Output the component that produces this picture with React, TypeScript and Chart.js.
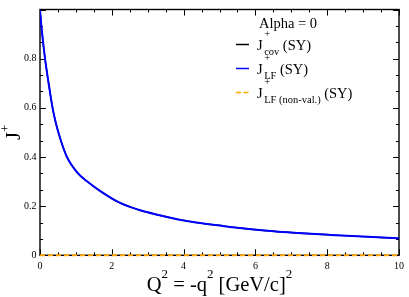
import React, { useEffect, useRef } from "react";
import { Chart, registerables } from "chart.js";

Chart.register(...registerables);

// ---- data ----
const q2Values = [0, 0.04, 0.14, 0.24, 0.35, 0.45, 0.58, 0.75, 1.06, 1.3, 1.65, 2.2, 2.75, 3.3, 3.85, 4.4, 4.95, 5.5, 6.25, 7.17, 8.09, 9.0, 10];
const jCovValues = [1.0, 0.93, 0.8, 0.7, 0.6, 0.533, 0.467, 0.4, 0.333, 0.302, 0.264, 0.215, 0.185, 0.164, 0.146, 0.132, 0.122, 0.112, 0.101, 0.091, 0.083, 0.076, 0.069];
const jLFValues = [1.0, 0.93, 0.8, 0.7, 0.6, 0.533, 0.467, 0.4, 0.333, 0.302, 0.264, 0.215, 0.185, 0.164, 0.146, 0.132, 0.122, 0.112, 0.101, 0.091, 0.083, 0.076, 0.069];
const q2NonVal = [0, 10];
const jNonValValues = [0, 0];

const legendTitle = "Alpha = 0";
const seriesSubscripts = ["cov", "LF", "LF (non-val.)"];
const seriesSuffix = "(SY)";
const seriesColors = ["#000000", "#0000ff", "#ffa500"];

const xMin = 0, xMax = 10, xMajor = 2, xMinor = 0.5;
const yMin = 0, yMax = 1, yMajor = 0.2, yMinor = 0.2 / 3;

const SERIF = "'Liberation Serif', 'DejaVu Serif', serif";

function pts(xs: number[], ys: number[]) {
  return xs.map((x, i) => ({ x, y: ys[i] }));
}

const decorPlugin = {
  id: "decor",
  beforeDatasetsDraw(chart: any) {
    const { ctx, chartArea, scales } = chart;
    const { left, right, top, bottom } = chartArea;
    const xs = scales.x, ys = scales.y;
    ctx.save();
    ctx.strokeStyle = "#000";
    ctx.lineWidth = 1;
    ctx.beginPath();
    for (let i = 0; xMin + i * xMinor <= xMax + 1e-9; i++) {
      const v = xMin + i * xMinor;
      const isMajor = Math.abs(v / xMajor - Math.round(v / xMajor)) < 1e-6;
      const len = isMajor ? 6 : 3;
      const px = Math.round(xs.getPixelForValue(v)) + 0.5;
      ctx.moveTo(px, bottom);
      ctx.lineTo(px, bottom - len);
      ctx.moveTo(px, top);
      ctx.lineTo(px, top + len);
    }
    for (let i = 0; yMin + i * yMinor <= yMax + 1e-9; i++) {
      const v = yMin + i * yMinor;
      const isMajor = i % 3 === 0;
      const len = isMajor ? 6 : 3;
      const py = Math.round(ys.getPixelForValue(v)) + 0.5;
      ctx.moveTo(left, py);
      ctx.lineTo(left + len, py);
      ctx.moveTo(right, py);
      ctx.lineTo(right - len, py);
    }
    ctx.stroke();
    ctx.lineWidth = 1.4;
    ctx.strokeRect(left, top, right - left, bottom - top);
    ctx.restore();
  },
  afterDraw(chart: any) {
    const { ctx, chartArea } = chart;
    const { left, right, top, bottom } = chartArea;
    ctx.save();
    ctx.fillStyle = "#000";
    ctx.textBaseline = "alphabetic";
    ctx.textAlign = "left";

    // ---- x axis title: Q^2 = -q^2 [GeV/c]^2 ----
    const mainF = `20.5px ${SERIF}`;
    const supF = `13px ${SERIF}`;
    const segs: { t: string; sup?: boolean }[] = [
      { t: "Q" }, { t: "2", sup: true }, { t: " = -q" }, { t: "2", sup: true }, { t: " [GeV/c]" }, { t: "2", sup: true },
    ];
    let total = 0;
    for (const s of segs) {
      ctx.font = s.sup ? supF : mainF;
      total += ctx.measureText(s.t).width;
    }
    let cx = (left + right) / 2 - total / 2;
    const base = 291;
    for (const s of segs) {
      ctx.font = s.sup ? supF : mainF;
      ctx.fillText(s.t, cx, s.sup ? base - 13 : base);
      cx += ctx.measureText(s.t).width;
    }

    // ---- y axis title: J^+ (rotated) ----
    ctx.save();
    ctx.translate(20, (top + bottom) / 2);
    ctx.rotate(-Math.PI / 2);
    ctx.font = mainF;
    const jw = ctx.measureText("J").width;
    ctx.font = supF;
    const pw = ctx.measureText("+").width;
    const sx = -(jw + pw) / 2;
    ctx.font = mainF;
    ctx.fillText("J", sx, 0);
    ctx.font = supF;
    ctx.fillText("+", sx + jw, -11);
    ctx.restore();

    // ---- legend ----
    const legF = `14.5px ${SERIF}`;
    const smallF = `10.5px ${SERIF}`;
    ctx.font = legF;
    ctx.fillText(legendTitle, 259, 27.5);
    const datasets = chart.data.datasets;
    for (let i = 0; i < seriesSubscripts.length; i++) {
      const ly = 44 + i * 24;
      const ds = datasets[i];
      ctx.save();
      ctx.strokeStyle = ds.borderColor;
      ctx.lineWidth = 1.5;
      ctx.setLineDash(ds.borderDash && ds.borderDash.length ? [5, 2.5] : []);
      ctx.beginPath();
      ctx.moveTo(236, ly + 0.5);
      ctx.lineTo(249, ly + 0.5);
      ctx.stroke();
      ctx.restore();
      const b = ly + 5.5;
      ctx.font = legF;
      ctx.fillText("J", 257, b);
      const jx = 257 + ctx.measureText("J").width + 1.5;
      ctx.font = smallF;
      ctx.fillText("+", jx, b - 12.5);
      ctx.fillText(seriesSubscripts[i], jx, b + 5);
      const subW = Math.max(ctx.measureText(seriesSubscripts[i]).width, ctx.measureText("+").width);
      ctx.font = legF;
      ctx.fillText(seriesSuffix, jx + subW + 3.5, b);
    }
    ctx.restore();
  },
};

export default function App() {
  const ref = useRef<HTMLCanvasElement | null>(null);
  useEffect(() => {
    if (!ref.current) return;
    const chart = new Chart(ref.current, {
      type: "line",
      data: {
        datasets: [
          {
            label: "J+ cov (SY)",
            data: pts(q2Values, jCovValues),
            borderColor: seriesColors[0],
            borderWidth: 1.4,
            pointRadius: 0,
            cubicInterpolationMode: "monotone",
            fill: false,
            order: 2,
          },
          {
            label: "J+ LF (SY)",
            data: pts(q2Values, jLFValues),
            borderColor: seriesColors[1],
            borderWidth: 2,
            pointRadius: 0,
            cubicInterpolationMode: "monotone",
            fill: false,
            order: 1,
          },
          {
            label: "J+ LF (non-val.) (SY)",
            data: pts(q2NonVal, jNonValValues),
            borderColor: seriesColors[2],
            borderWidth: 2,
            borderDash: [5, 3],
            pointRadius: 0,
            fill: false,
            clip: 4,
            order: 0,
          },
        ],
      } as any,
      plugins: [decorPlugin],
      options: {
        animation: false,
        responsive: false,
        devicePixelRatio: 1,
        layout: { padding: { top: 1.6, right: 6.3, left: 0, bottom: 0 } },
        plugins: { legend: { display: false }, tooltip: { enabled: false } },
        scales: {
          x: {
            type: "linear",
            min: xMin,
            max: xMax,
            grid: { display: false, drawTicks: false },
            border: { display: false },
            ticks: {
              stepSize: xMajor,
              maxRotation: 0,
              autoSkip: false,
              padding: 5,
              color: "#000",
              font: { family: SERIF, size: 10 },
            },
            afterFit: (s: any) => {
              s.height = 41.7;
            },
          },
          y: {
            type: "linear",
            min: yMin,
            max: yMax,
            grid: { display: false, drawTicks: false },
            border: { display: false },
            ticks: {
              stepSize: yMajor,
              padding: 3.5,
              color: "#000",
              font: { family: SERIF, size: 10 },
              callback: (v: any) => (Math.abs(Number(v) - 1) < 1e-9 ? "" : String(Math.round(Number(v) * 10) / 10)),
            },
            afterFit: (s: any) => {
              s.width = 40;
            },
          },
        },
      } as any,
    });
    return () => chart.destroy();
  }, []);
  return (
    <div style={{ position: "fixed", left: 0, top: 0, width: 409, height: 297, background: "#fff" }}>
      <canvas ref={ref} width={409} height={297} />
    </div>
  );
}
